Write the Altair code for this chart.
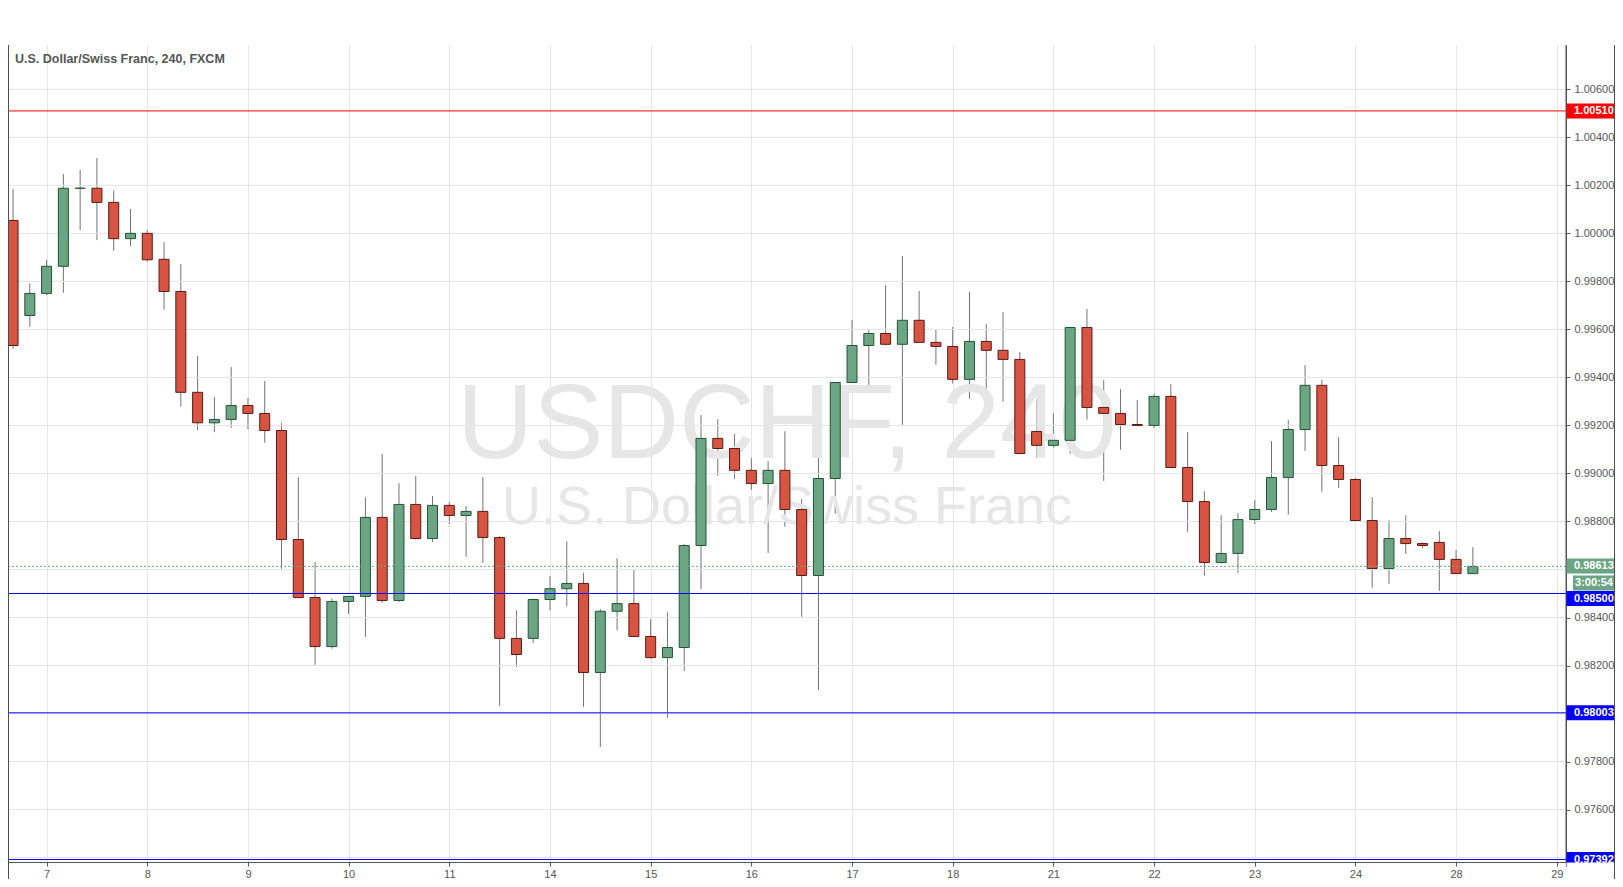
import altair as alt
import pandas as pd

# ---- data (USD/CHF, 240 min candles) ----
opens = [1.00054, 0.99658, 0.99750, 0.99863, 1.00188, 1.00188, 1.00129, 0.99978, 1.00000, 0.99892,
         0.99758, 0.99338, 0.99211, 0.99225, 0.99283, 0.99250, 0.99179, 0.98725, 0.98483, 0.98279,
         0.98467, 0.98488, 0.98817, 0.98471, 0.98871, 0.98729, 0.98867, 0.98825, 0.98842, 0.98733,
         0.98313, 0.98313, 0.98475, 0.98520, 0.98542, 0.98171, 0.98426, 0.98458, 0.98321, 0.98233,
         0.98275, 0.98700, 0.99146, 0.99104, 0.99013, 0.98958, 0.99013, 0.98850, 0.98575, 0.98979,
         0.99379, 0.99533, 0.99583, 0.99538, 0.99638, 0.99546, 0.99529, 0.99392, 0.99550, 0.99513,
         0.99475, 0.99175, 0.99117, 0.99138, 0.99608, 0.99275, 0.99250, 0.99204, 0.99200, 0.99321,
         0.99025, 0.98883, 0.98629, 0.98667, 0.98808, 0.98850, 0.98983, 0.99183, 0.99367, 0.99033,
         0.98975, 0.98804, 0.98604, 0.98729, 0.98708, 0.98713, 0.98642, 0.98583]
highs = [1.00185, 0.99792, 0.99889, 1.00247, 1.00264, 1.00314, 1.00179, 1.00101, 1.00014, 0.99964,
         0.99872, 0.99489, 0.99318, 0.99443, 0.99314, 0.99385, 0.99210, 0.98985, 0.98631, 0.98479,
         0.98488, 0.98901, 0.99081, 0.98960, 0.98989, 0.98906, 0.98881, 0.98864, 0.98985, 0.98739,
         0.98430, 0.98479, 0.98572, 0.98718, 0.98586, 0.98435, 0.98647, 0.98597, 0.98393, 0.98422,
         0.98706, 0.99243, 0.99226, 0.99164, 0.99064, 0.99051, 0.99176, 0.98893, 0.99206, 0.99379,
         0.99639, 0.99597, 0.99785, 0.99906, 0.99760, 0.99601, 0.99610, 0.99756, 0.99622, 0.99672,
         0.99506, 0.99310, 0.99251, 0.99608, 0.99685, 0.99389, 0.99351, 0.99306, 0.99331, 0.99372,
         0.99172, 0.98926, 0.98826, 0.98835, 0.98889, 0.99135, 0.99222, 0.99451, 0.99389, 0.99151,
         0.98981, 0.98901, 0.98806, 0.98826, 0.98714, 0.98760, 0.98681, 0.98693]
lows = [0.99519, 0.99611, 0.99743, 0.99753, 1.00014, 0.99972, 0.99928, 0.99947, 0.99882, 0.99683,
        0.99278, 0.99181, 0.99172, 0.99190, 0.99185, 0.99128, 0.98603, 0.98483, 0.98203, 0.98270,
        0.98415, 0.98319, 0.98461, 0.98464, 0.98724, 0.98715, 0.98790, 0.98653, 0.98628, 0.98032,
        0.98194, 0.98294, 0.98430, 0.98447, 0.98028, 0.97861, 0.98347, 0.98321, 0.98229, 0.97982,
        0.98178, 0.98518, 0.98990, 0.98978, 0.98932, 0.98669, 0.98778, 0.98403, 0.98097, 0.98832,
        0.99379, 0.99365, 0.99533, 0.99203, 0.99546, 0.99453, 0.99375, 0.99311, 0.99311, 0.99299,
        0.99083, 0.99065, 0.99108, 0.99082, 0.99224, 0.98969, 0.99099, 0.99200, 0.99190, 0.99025,
        0.98757, 0.98574, 0.98625, 0.98586, 0.98790, 0.98840, 0.98828, 0.99094, 0.98924, 0.98940,
        0.98799, 0.98524, 0.98540, 0.98665, 0.98690, 0.98511, 0.98583, 0.98583]
closes = [0.99533, 0.99750, 0.99863, 1.00188, 1.00188, 1.00129, 0.99978, 1.00000, 0.99890, 0.99758,
          0.99338, 0.99211, 0.99225, 0.99283, 0.99250, 0.99179, 0.98725, 0.98483, 0.98279, 0.98467,
          0.98488, 0.98817, 0.98471, 0.98871, 0.98729, 0.98867, 0.98825, 0.98842, 0.98733, 0.98313,
          0.98246, 0.98475, 0.98520, 0.98542, 0.98171, 0.98426, 0.98458, 0.98321, 0.98233, 0.98275,
          0.98700, 0.99146, 0.99104, 0.99013, 0.98958, 0.99013, 0.98850, 0.98575, 0.98979, 0.99379,
          0.99533, 0.99583, 0.99538, 0.99638, 0.99546, 0.99529, 0.99392, 0.99550, 0.99513, 0.99475,
          0.99083, 0.99117, 0.99138, 0.99608, 0.99275, 0.99250, 0.99204, 0.99200, 0.99321, 0.99025,
          0.98883, 0.98629, 0.98667, 0.98808, 0.98850, 0.98983, 0.99183, 0.99367, 0.99033, 0.98975,
          0.98804, 0.98604, 0.98729, 0.98708, 0.98700, 0.98642, 0.98583, 0.98613]

day_idx = [2, 8, 14, 20, 26, 32, 38, 44, 50, 56, 62, 68, 74, 80, 86, 92]
day_labels = ["7", "8", "9", "10", "11", "14", "15", "16", "17", "18", "21", "22", "23", "24", "28", "29"]

grid_prices = [0.974, 0.976, 0.978, 0.980, 0.982, 0.984, 0.986, 0.988, 0.990, 0.992,
               0.994, 0.996, 0.998, 1.000, 1.002, 1.004, 1.006]
price_labels = [0.976, 0.978, 0.982, 0.984, 0.988, 0.990, 0.992, 0.994, 0.996, 0.998,
                1.000, 1.002, 1.004, 1.006]

red_levels = [1.00510]
blue_levels = [0.98500, 0.98003, 0.97392]
last_price = [0.98613]
countdown = "3:00:54"

title_text = "U.S. Dollar/Swiss Franc, 240, FXCM"
wm_big = "USDCHF, 240"
wm_small = "U.S. Dollar/Swiss Franc"

# ---- layout ----
W, H = 1558, 817
FONT = "Liberation Sans"
UP_FILL, UP_EDGE = "#6ba583", "#225437"
DN_FILL, DN_EDGE = "#d75442", "#5b1a13"
WICK = "#737375"
GRID = "#e4e4e4"
AX = "#555555"

candles = pd.DataFrame({"idx": list(range(len(opens))), "open": opens, "high": highs,
                        "low": lows, "close": closes})

xscale = alt.Scale(domain=[-0.3, 92.55], nice=False, zero=False, padding=0)
yscale = alt.Scale(domain=[0.973817, 1.007846], nice=False, zero=False, padding=0)

label_expr = "[" + ",".join("'%s'" % s for s in day_labels) + "][indexof([" + \
    ",".join(str(i) for i in day_idx) + "], datum.value)]"

x_axis = alt.Axis(values=day_idx, labelExpr=label_expr, title=None, grid=True, gridColor=GRID,
                  tickSize=4, labelPadding=2, domainColor=AX, tickColor=AX, labelColor=AX,
                  labelFont=FONT, labelFontSize=11)
y_axis = alt.Axis(orient="right", values=price_labels, format=".5f", title=None, grid=False,
                  tickSize=4, labelPadding=4, domainColor=AX, tickColor=AX, labelColor=AX,
                  labelFont=FONT, labelFontSize=11)


def Y(field):
    return alt.Y(field, scale=yscale, title=None)


base = alt.Chart(candles)

wicks = base.mark_rule(color=WICK, strokeWidth=1).encode(
    x=alt.X("idx:Q", scale=xscale, axis=x_axis),
    y=alt.Y("low:Q", scale=yscale, axis=y_axis),
    y2="high:Q",
)

is_up = "datum.close >= datum.open"
bodies = base.mark_bar(size=10, strokeWidth=1).encode(
    x=alt.X("idx:Q", scale=xscale, title=None),
    y=Y("open:Q"),
    y2="close:Q",
    color=alt.condition(is_up, alt.value(UP_FILL), alt.value(DN_FILL)),
    stroke=alt.condition(is_up, alt.value(UP_EDGE), alt.value(DN_EDGE)),
)

hgrid = alt.Chart(pd.DataFrame({"p": grid_prices})).mark_rule(color=GRID, strokeWidth=1).encode(
    y=Y("p:Q"), x=alt.value(0), x2=alt.value(W))

wm1 = alt.Chart(pd.DataFrame({"t": [wm_big]})).mark_text(
    font=FONT, fontSize=105, color="#e6e6e6", align="center", baseline="alphabetic").encode(
    text="t:N", x=alt.value(779), y=alt.value(413))
wm2 = alt.Chart(pd.DataFrame({"t": [wm_small]})).mark_text(
    font=FONT, fontSize=54, color="#e6e6e6", align="center", baseline="alphabetic").encode(
    text="t:N", x=alt.value(779), y=alt.value(479))

title = alt.Chart(pd.DataFrame({"t": [title_text]})).mark_text(
    font=FONT, fontSize=12.5, fontWeight="bold", color="#555555", align="left",
    baseline="middle").encode(text="t:N", x=alt.value(7), y=alt.value(14))

red_df = pd.DataFrame({"p": red_levels, "lab": ["%.5f" % v for v in red_levels]})
blue_df = pd.DataFrame({"p": blue_levels, "lab": ["%.5f" % v for v in blue_levels]})
last_df = pd.DataFrame({"p": last_price, "lab": ["%.5f" % v for v in last_price], "cd": [countdown]})

red_line = alt.Chart(red_df).mark_rule(color="#ff0000", strokeWidth=1).encode(
    y=Y("p:Q"), x=alt.value(0), x2=alt.value(W))
blue_line = alt.Chart(blue_df).mark_rule(color="#0000ff", strokeWidth=1).encode(
    y=Y("p:Q"), x=alt.value(0), x2=alt.value(W))
last_line = alt.Chart(last_df).mark_rule(color=UP_FILL, strokeWidth=1, strokeDash=[2, 2]).encode(
    y=Y("p:Q"), x=alt.value(0), x2=alt.value(W))


def box(df, fill, y0, y1, x0=W, x1=W + 49):
    return alt.Chart(df).mark_rect(color=fill, yOffset=y0, y2Offset=y1).encode(
        y=Y("p:Q"), y2="p:Q", x=alt.value(x0), x2=alt.value(x1))


def box_text(df, field, dy, x, align="left"):
    return alt.Chart(df).mark_text(font=FONT, fontSize=11, fontWeight="bold", color="white",
                                   align=align, baseline="middle", dy=dy).encode(
        y=Y("p:Q"), text=field + ":N", x=alt.value(x))


blue_main = blue_df.iloc[[1, 2]]
blue_first = blue_df.iloc[[0]]

labels = [
    box(red_df, "#ff0000", -7.5, 7.5), box_text(red_df, "lab", 0, W + 8),
    box(last_df, UP_FILL, -8, 7), box_text(last_df, "lab", 0, W + 8),
    box(last_df, UP_FILL, 9, 24, W + 7, W + 49), box_text(last_df, "cd", 16.5, W + 28, "center"),
    box(blue_first, "#0000ff", -2.5, 12.5), box_text(blue_first, "lab", 5, W + 8),
    box(blue_main, "#0000ff", -7.5, 7.5), box_text(blue_main, "lab", 0, W + 8),
]

cover = alt.Chart(pd.DataFrame({"a": [0]})).mark_rect(color="white").encode(
    x=alt.value(W + 0.5), x2=alt.value(W + 48.5), y=alt.value(H + 0.5), y2=alt.value(H + 17))

frame_col = "#4d4d4d"
frame = [
    alt.Chart(pd.DataFrame({"a": [0]})).mark_rule(color=frame_col).encode(
        x=alt.value(0.5), y=alt.value(0), y2=alt.value(H + 17.5)),
    alt.Chart(pd.DataFrame({"a": [0]})).mark_rule(color=frame_col).encode(
        x=alt.value(0), x2=alt.value(W + 49), y=alt.value(H + 17.5)),
    alt.Chart(pd.DataFrame({"a": [0]})).mark_rule(color=frame_col).encode(
        x=alt.value(W + 48.5), y=alt.value(0), y2=alt.value(H + 17.5)),
    alt.Chart(pd.DataFrame({"a": [0]})).mark_rule(color=AX).encode(
        x=alt.value(W), y=alt.value(0), y2=alt.value(H)),
]

chart = alt.layer(
    wicks, hgrid, wm1, wm2, bodies, red_line, blue_line, last_line, title, *labels, cover, *frame
).properties(
    width=W, height=H,
    autosize=alt.AutoSizeParams(type="none"),
    padding={"left": 0, "top": 37, "right": 49, "bottom": 17},
    background="white",
).configure_view(stroke=None)

chart.save("out.html", embed_options={"renderer": "svg", "actions": False})
